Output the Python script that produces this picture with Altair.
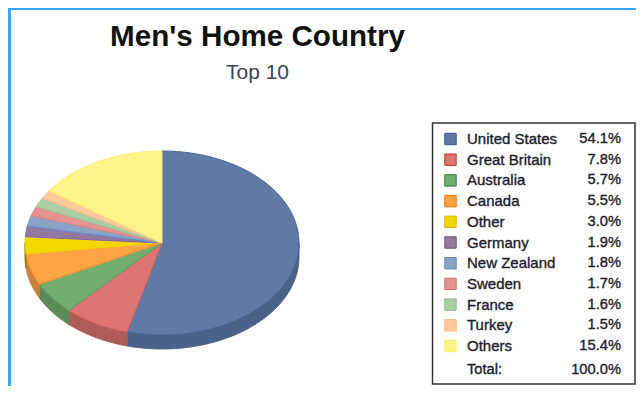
import math
import altair as alt

countries = ["United States", "Great Britain", "Australia", "Canada", "Other", "Germany",
             "New Zealand", "Sweden", "France", "Turkey", "Others"]
shares = [54.1, 7.8, 5.7, 5.5, 3.0, 1.9, 1.8, 1.7, 1.6, 1.5, 15.4]
face_colors = ["#5F7BA5", "#DE7570", "#73AE6E", "#FFA347", "#F2D800", "#92799F",
               "#8BA4C6", "#E6948F", "#ACCDA6", "#FFC999", "#FFF38A"]
edge_colors = ["#3F6296", "#E0605C", "#4FA468", "#FF8F2E", "#EFD000", "#8060B0",
               "#5F9AD8", "#E8807C", "#88D0A0", "#FFBC88", "#FFEE70"]
wall_colors = ["#4A6188", "#AE5C58", "#5A8A56", "#C98038", "#8C7C00", "#6E5A78",
               "#6A7F9C", "#B5736F", "#86A081", "#C99E78", "#C9BF6C"]
swatch_edges = ["#2F5597", "#C0392B", "#2E7D32", "#FF6A00", "#D9B800", "#6A5080",
                "#6484B0", "#D0706A", "#8DBB88", "#FFB880", "#FFEE60"]
pct_labels = [f"{s:.1f}%" for s in shares]
total_label = "Total:"
total_value = "100.0%"
title_text = "Men's Home Country"
subtitle_text = "Top 10"

RATIO = 92 / 137
DEPTH = 14 / 137


def arc(a0, a1, drop=0.0):
    n = max(2, int(abs(a1 - a0) * 2) + 2)
    out = []
    for i in range(n):
        t = math.radians(a0 + (a1 - a0) * i / (n - 1))
        out.append([math.sin(t), RATIO * math.cos(t) - drop])
    return out


def feature(name, ring):
    return {"type": "Feature", "properties": {"country": name},
            "geometry": {"type": "Polygon", "coordinates": [ring + [ring[0]]]}}


tops, walls = [], []
start = 0.0
for name, share in zip(countries, shares):
    end = start + share * 3.6
    tops.append(feature(name, [[0.0, 0.0]] + arc(start, end)))
    w0, w1 = max(start, 90.0), min(end, 270.0)
    if w1 > w0:
        walls.append(feature(name, arc(w0, w1) + arc(w1, w0, DEPTH)))
    start = end

projection = dict(type="identity", reflectY=True, scale=137, translate=[154, 235])


def geo(features, fills, strokes, sw):
    return (alt.Chart(alt.Data(values=features)).mark_geoshape(strokeWidth=sw).encode(
        fill=alt.Fill("properties.country:N", scale=alt.Scale(domain=countries, range=fills), legend=None),
        stroke=alt.Stroke("properties.country:N", scale=alt.Scale(domain=countries, range=strokes), legend=None),
    ).project(**projection))


wall_layer = geo(walls, wall_colors, wall_colors, 1)
top_layer = geo(tops, face_colors, edge_colors, 1)

rows = [{"country": c, "pct": p} for c, p in zip(countries, pct_labels)]
row_y = alt.Y("country:N", sort=countries, axis=None,
              scale=alt.Scale(domain=countries, range=[131, 338], type="point", padding=0))
legend_data = alt.Data(values=rows)
FONT = "Liberation Sans"
TXT = dict(baseline="middle", font=FONT, color="#1c1c2c", stroke="#1c1c2c", strokeWidth=0.35)

frame_left = alt.Chart(alt.Data(values=[{"a": 0}])).mark_rect(color="#3AA6FF").encode(
    x=alt.value(0), x2=alt.value(3), y=alt.value(0), y2=alt.value(378))
frame_top = alt.Chart(alt.Data(values=[{"a": 0}])).mark_rect(color="#3AA6FF").encode(
    x=alt.value(0), x2=alt.value(628), y=alt.value(0), y2=alt.value(2))
legend_box = alt.Chart(alt.Data(values=[{"a": 0}])).mark_rect(
    fill="white", stroke="#333333", strokeWidth=1.5).encode(
    x=alt.value(424.5), x2=alt.value(627), y=alt.value(115), y2=alt.value(376))
swatches = alt.Chart(legend_data).mark_square(size=130, filled=True, strokeWidth=1, opacity=1).encode(
    x=alt.value(442.5), y=row_y,
    fill=alt.Fill("country:N", scale=alt.Scale(domain=countries, range=face_colors), legend=None),
    stroke=alt.Stroke("country:N", scale=alt.Scale(domain=countries, range=swatch_edges), legend=None))
names = alt.Chart(legend_data).mark_text(align="left", fontSize=15, **TXT).encode(
    x=alt.value(459), y=row_y, text="country:N")
pcts = alt.Chart(legend_data).mark_text(align="right", fontSize=14.7, **TXT).encode(
    x=alt.value(613), y=row_y, text="pct:N")
total_a = alt.Chart(alt.Data(values=[{"t": total_label}])).mark_text(align="left", fontSize=14.7, **TXT).encode(
    x=alt.value(459), y=alt.value(361.5), text="t:N")
total_b = alt.Chart(alt.Data(values=[{"t": total_value}])).mark_text(align="right", fontSize=14.7, **TXT).encode(
    x=alt.value(613), y=alt.value(361.5), text="t:N")
title = alt.Chart(alt.Data(values=[{"t": title_text}])).mark_text(
    align="center", baseline="middle", font=FONT, fontSize=29.6, fontWeight="bold", color="#111111").encode(
    x=alt.value(249.5), y=alt.value(29), text="t:N")
subtitle = alt.Chart(alt.Data(values=[{"t": subtitle_text}])).mark_text(
    align="center", baseline="middle", font=FONT, fontSize=21, color="#444455").encode(
    x=alt.value(249.5), y=alt.value(65), text="t:N")

chart = alt.layer(
    frame_left, frame_top, wall_layer, top_layer, legend_box, swatches, names, pcts,
    total_a, total_b, title, subtitle,
).resolve_scale(fill="independent", stroke="independent").properties(
    width=628, height=378, padding=0, background="white",
).configure_view(stroke=None)

chart.save("out.html", embed_options={"renderer": "svg", "actions": False})
